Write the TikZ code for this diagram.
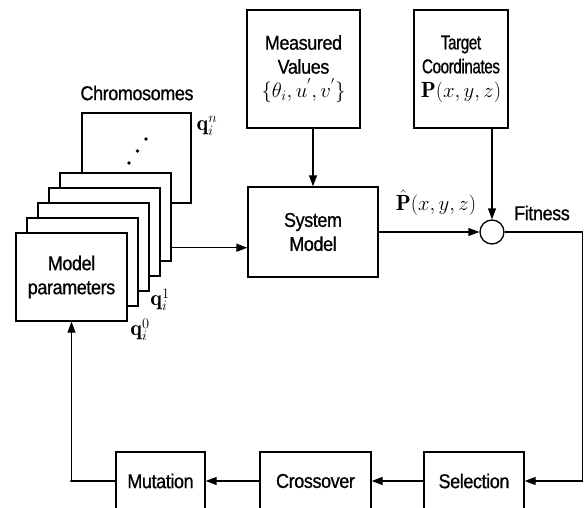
\documentclass[tikz,border=0pt]{standalone}
\usepackage{fontspec}
\newfontfamily\blockfont[FakeStretch=0.9, LetterSpace=-2, FakeBold=0.8]{Liberation Sans}
\newfontfamily\narrowfont[FakeStretch=0.76, LetterSpace=-2, FakeBold=0.8]{Liberation Sans}
\usetikzlibrary{arrows.meta,positioning,calc}
\newcommand{\blocksize}{\fontsize{20}{24}\selectfont}
\newcommand{\mathsz}{\fontsize{22}{24}\selectfont}
\tikzset{
  gbox/.style={draw, line width=1.4pt, fill=white, align=center, font=\blockfont\blocksize, inner sep=0pt},
  gbody/.style={gbox, minimum width=111pt, minimum height=88pt},
  garrow/.style={-{Triangle[length=11pt,width=8pt]}, line width=1.3pt},
  glabel/.style={font=\blockfont\blocksize, inner sep=1pt},
  gmath/.style={font=\mathsz, inner sep=1pt},
}

\begin{document}
\begin{tikzpicture}[x=1pt, y=-1pt]
  \useasboundingbox (0,0) rectangle (586,508);
  \clip (0,0) rectangle (586,508);

  % inputs and the model block
  \node[gbox, minimum width=113pt, minimum height=118pt] (meas) at (303.5,69) {Measured\\Values\\\mathsz$\{\theta_i,u^{'},v^{'}\}$};
  \node[gbox, font=\narrowfont\blocksize, minimum width=94pt, minimum height=118pt] (targ) at (461,69) {Target\\Coordinates\\\mathsz$\mathbf{P}(x,y,z)$};
  \node[gbox, minimum width=130pt, minimum height=90pt] (sys) at (313,232) {System\\Model};
  \node[draw, circle, line width=1.3pt, minimum size=24pt, inner sep=0pt] (fit) at (492,232) {};
  \node[glabel, anchor=west] (fitlbl) at (513,213) {Fitness};
  \node[gmath] (phat) at (436,203) {$\hat{\mathbf{P}}(x,y,z)$};

  % GA operators along the bottom
  \node[gbox, minimum width=100pt, minimum height=58pt] (sel) at (474,481) {Selection};
  \node[gbox, minimum width=111pt, minimum height=58pt] (cross) at (315.5,481) {Crossover};
  \node[gbox, minimum width=89pt, minimum height=58pt] (mut) at (160.5,481) {Mutation};

  % population of chromosomes, back to front
  \node[glabel] (chrlbl) at (137,93) {Chromosomes};
  \node[gbox, minimum width=109pt, minimum height=90pt] (chrn) at (136.5,158) {};
  \foreach \p in {(129,163),(137.5,151),(146,139)}
    \fill \p circle (1.8);
  \foreach \k in {4,3,2,1}
    \node[gbody] (chr\k) at (71.5+11*\k, 277-15*\k) {};
  \node[gbody] (model) at (71.5,277) {Model\\parameters};
  \node[gmath] (qn) at (207,126) {$\mathbf{q}_i^n$};
  \node[gmath] (q1) at (160,300) {$\mathbf{q}_i^1$};
  \node[gmath] (q0) at (140,330) {$\mathbf{q}_i^0$};

  % signal flow
  \coordinate (feed) at ($(chr4.south east)+(0,-14)$);
  \draw[garrow] (feed) -- (feed -| sys.west);
  \draw[garrow] (sys.north |- meas.south) -- (sys.north);
  \draw[garrow] (fit.north |- targ.south) -- (fit.north);
  \draw[garrow] (sys.east) -- (fit.west);
  \draw[garrow] (fit.east) -- ++(78,0) |- (sel.east);
  \draw[garrow] (sel.west) -- (cross.east);
  \draw[garrow] (cross.west) -- (mut.east);
  \draw[garrow] (mut.west) -- ++(-45,0) -| (model.south);
\end{tikzpicture}
\end{document}
